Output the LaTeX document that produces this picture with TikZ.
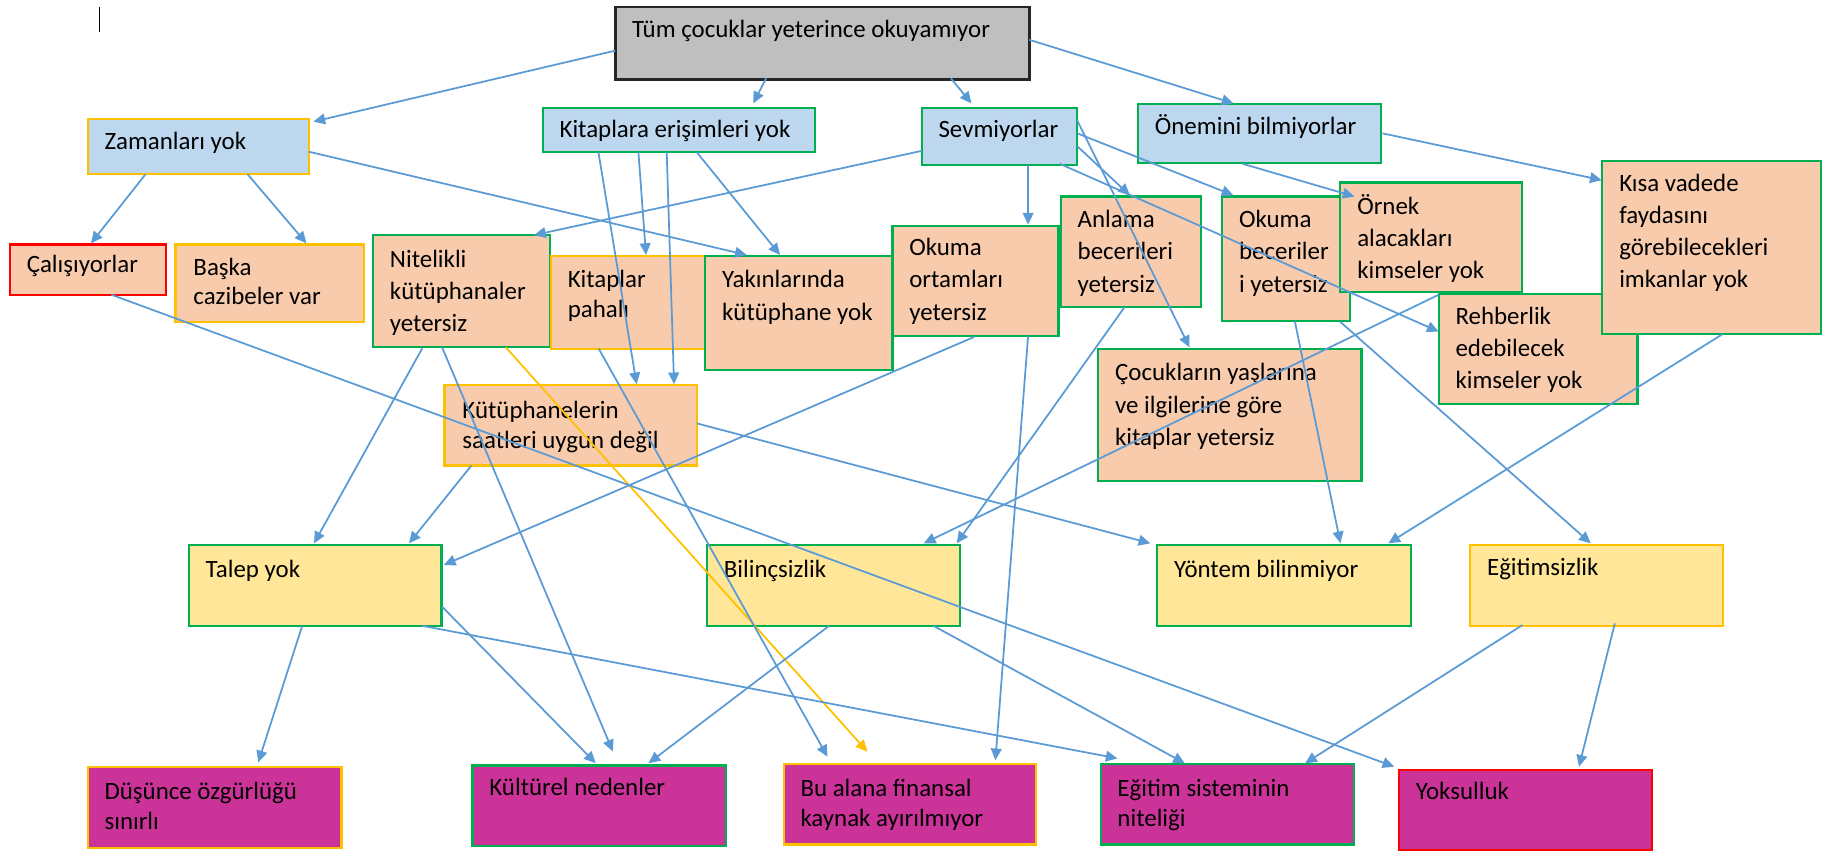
\documentclass[tikz,border=0pt]{standalone}
\usepackage{fontspec}
\setmainfont{Carlito}
\usetikzlibrary{arrows.meta,fit}
\definecolor{cblue}{HTML}{BDD7EE}
\definecolor{cpeach}{HTML}{F8CBAD}
\definecolor{cyel}{HTML}{FFE699}
\definecolor{cmag}{HTML}{CC3399}
\definecolor{cgray}{HTML}{BFBFBF}
\definecolor{bgreen}{HTML}{00B050}
\definecolor{borange}{HTML}{FFC000}
\definecolor{bred}{HTML}{FF0000}
\definecolor{barrow}{HTML}{5B9BD5}
\begin{document}
\begin{tikzpicture}[x=0.5pt,y=-0.5pt,
  cbox/.style={draw, line width=0.9pt, inner sep=0pt, outer sep=0pt, rectangle},
  txt/.style={anchor=north west, inner sep=0pt, align=left, font=\fontsize{10.65}{13.75}\selectfont, text=black},
  arr/.style={draw=barrow, line width=0.75pt, -{Triangle[length=5pt,width=4.6pt]}, fill=barrow},
  yarr/.style={draw=borange, line width=0.75pt, -{Triangle[length=5pt,width=4.6pt]}},
]
\useasboundingbox (0,0) rectangle (1568,728);
\fill[white] (0,0) rectangle (1568,728);
% cursor mark
\draw[line width=0.6pt] (85,6) -- (85,27.5);

% boxes
\node[cbox, fill=cgray, draw=black!85, line width=1.2pt, fit={(526,6) (880,68)}] (tum) {};
\node[cbox, fill=cblue, draw=borange, fit={(75,102) (264,149)}] (zam) {};
\node[cbox, fill=cblue, draw=bgreen, fit={(464,92) (697,130)}] (kit) {};
\node[cbox, fill=cblue, draw=bgreen, fit={(788,92) (921,141)}] (sev) {};
\node[cbox, fill=cblue, draw=bgreen, fit={(973,89) (1181,139)}] (one) {};
\node[cbox, fill=cpeach, draw=bred, fit={(8.5,209) (142,252)}] (cal) {};
\node[cbox, fill=cpeach, draw=borange, fit={(150,209) (311,275)}] (bas) {};
\node[cbox, fill=cpeach, draw=bgreen, fit={(319,201) (470,297)}] (nit) {};
\node[cbox, fill=cpeach, draw=borange, fit={(471,219) (603,298)}] (pah) {};
\node[cbox, fill=cpeach, draw=bgreen, fit={(603,219) (763,316)}] (yak) {};
\node[cbox, fill=cpeach, draw=bgreen, fit={(763,193) (905,287)}] (ort) {};
\node[cbox, fill=cpeach, draw=bgreen, fit={(907,168) (1027,262.5)}] (anl) {};
\node[cbox, fill=cpeach, draw=bgreen, fit={(1045,168) (1154,274.5)}] (obe) {};
\node[cbox, fill=cpeach, draw=bgreen, fit={(1146,156) (1301,250)}] (orn) {};
\node[cbox, fill=cpeach, draw=bgreen, fit={(1230,251.5) (1400,345.5)}] (reh) {};
\node[cbox, fill=cpeach, draw=bgreen, fit={(1370,138) (1557,285.5)}] (kis) {};
\node[cbox, fill=cpeach, draw=borange, fit={(380,329.5) (596,398)}] (kut) {};
\node[cbox, fill=cpeach, draw=bgreen, fit={(939,298.5) (1164,411)}] (coc) {};
\node[cbox, fill=cyel, draw=bgreen, fit={(161.5,466) (377.5,535)}] (tal) {};
\node[cbox, fill=cyel, draw=bgreen, fit={(604.5,466) (820.5,535)}] (bil) {};
\node[cbox, fill=cyel, draw=bgreen, fit={(989.5,466) (1206.5,535)}] (yon) {};
\node[cbox, fill=cyel, draw=borange, fit={(1257,466) (1473,535)}] (egz) {};
\node[cbox, fill=cmag, draw=borange, fit={(75,656) (292,725)}] (dus) {};
\node[cbox, fill=cmag, draw=bgreen, fit={(404,654.5) (620.5,723)}] (kul) {};
\node[cbox, fill=cmag, draw=borange, fit={(670,653) (885.5,722)}] (bua) {};
\node[cbox, fill=cmag, draw=bgreen, fit={(941,653) (1157.5,722)}] (egs) {};
\node[cbox, fill=cmag, draw=bred, fit={(1196,658) (1412.5,727)}] (yok) {};

% texts
\node[txt] (tumt) at ([shift={(14,6.5)}]tum.north west) {\strut Tüm çocuklar yeterince okuyamıyor};
\node[txt] (zamt) at ([shift={(14,6.5)}]zam.north west) {\strut Zamanları yok};
\node[txt] (kitt) at ([shift={(14,5.5)}]kit.north west) {\strut Kitaplara erişimleri yok};
\node[txt] (sevt) at ([shift={(14,6)}]sev.north west) {\strut Sevmiyorlar};
\node[txt] (onet) at ([shift={(14,6)}]one.north west) {\strut Önemini bilmiyorlar};
\node[txt] (calt) at ([shift={(14,4.5)}]cal.north west) {\strut Çalışıyorlar};
\node[txt] (bast) at ([shift={(15,6.5)}]bas.north west) {\strut Başka\\[-1pt]cazibeler var};
\node[txt] (nitt) at ([shift={(14,8)}]nit.north west) {\strut Nitelikli\\kütüphanaler\\yetersiz};
\node[txt] (paht) at ([shift={(14,7.5)}]pah.north west) {\strut Kitaplar\\[-1pt]pahalı};
\node[txt] (yakt) at ([shift={(14,7.5)}]yak.north west) {\strut Yakınlarında\\kütüphane yok};
\node[txt] (ortt) at ([shift={(14,6)}]ort.north west) {\strut Okuma\\ortamları\\yetersiz};
\node[txt] (anlt) at ([shift={(14,7)}]anl.north west) {\strut Anlama\\becerileri\\yetersiz};
\node[txt] (obet) at ([shift={(14,7)}]obe.north west) {\strut Okuma\\beceriler\\i yetersiz};
\node[txt] (ornt) at ([shift={(14,7.5)}]orn.north west) {\strut Örnek\\alacakları\\kimseler yok};
\node[txt] (reht) at ([shift={(14,6)}]reh.north west) {\strut Rehberlik\\edebilecek\\kimseler yok};
\node[txt] (kist) at ([shift={(14,6)}]kis.north west) {\strut Kısa vadede\\faydasını\\görebilecekleri\\imkanlar yok};
\node[txt] (kutt) at ([shift={(15,8.5)}]kut.north west) {\strut Kütüphanelerin\\[-1pt]saatleri uygun değil};
\node[txt] (coct) at ([shift={(14,7.5)}]coc.north west) {\strut Çocukların yaşlarına\\ve ilgilerine göre\\kitaplar yetersiz};
\node[txt] (talt) at ([shift={(14,8)}]tal.north west) {\strut Talep yok};
\node[txt] (bilt) at ([shift={(14,8)}]bil.north west) {\strut Bilinçsizlik};
\node[txt] (yont) at ([shift={(14,8)}]yon.north west) {\strut Yöntem bilinmiyor};
\node[txt] (egzt) at ([shift={(14,6.5)}]egz.north west) {\strut Eğitimsizlik};
\node[txt] (dust) at ([shift={(14,8)}]dus.north west) {\strut Düşünce özgürlüğü\\[-1pt]sınırlı};
\node[txt] (kult) at ([shift={(14,6)}]kul.north west) {\strut Kültürel nedenler};
\node[txt] (buat) at ([shift={(14,8.5)}]bua.north west) {\strut Bu alana finansal\\[-1pt]kaynak ayırılmıyor};
\node[txt] (egst) at ([shift={(14,8.5)}]egs.north west) {\strut Eğitim sisteminin\\[-1pt]niteliği};
\node[txt] (yokt) at ([shift={(14,6)}]yok.north west) {\strut Yoksulluk};

% connectors
\draw[arr] ([shift={(0,37.3)}]tum.north west) -- ([shift={(4,2)}]zam.north east);
\draw[arr] ([shift={(129,-1)}]tum.south west) -- ([shift={(180,-3.6)}]kit.north west);
\draw[arr] ([shift={(287,-1)}]tum.south west) -- ([shift={(42.6,-3.6)}]sev.north west);
\draw[arr] ([shift={(0,28)}]tum.north east) -- ([shift={(81.6,-0.6)}]one.north west);
\draw[arr] ([shift={(49.4,0)}]zam.south west) -- ([shift={(69.3,-1)}]cal.north west);
\draw[arr] ([shift={(136.7,0)}]zam.south west) -- ([shift={(112,-1)}]bas.north west);
\draw[arr] ([shift={(0,27.7)}]zam.north east) -- ([shift={(35.4,-1)}]yak.north west);
\draw[arr] ([shift={(47.6,0)}]kit.south west) -- ([shift={(164.3,-1)}]kut.north west);
\draw[arr] ([shift={(81.8,0)}]kit.south west) -- ([shift={(81.3,-1)}]pah.north west);
\draw[arr] ([shift={(106,0)}]kit.south west) -- ([shift={(196.3,-1)}]kut.north west);
\draw[arr] ([shift={(131.6,0)}]kit.south west) -- ([shift={(63.9,-1)}]yak.north west);
\draw[arr] ([shift={(0,-12)}]sev.south west) -- ([shift={(-13.4,0)}]nit.north east);
\draw[arr] ([shift={(91,0)}]sev.south west) -- ([shift={(116,-1)}]ort.north west);
\draw[arr] ([shift={(0,11)}]sev.north east) -- ([shift={(78,-1.5)}]coc.north west);
\draw[arr] ([shift={(0,33)}]sev.north east) -- ([shift={(59,-1)}]anl.north west);
\draw[arr] ([shift={(0,22)}]sev.north east) -- ([shift={(9.5,-1)}]obe.north west);
\draw[arr] ([shift={(-15,-1)}]sev.south east) -- ([shift={(0,32)}]reh.north west);
\draw[arr] ([shift={(1,25)}]one.north east) -- ([shift={(-0.6,16)}]kis.north west);
\draw[arr] ([shift={(89.3,1)}]one.south west) -- ([shift={(12,12)}]orn.north west);
\draw[arr] ([shift={(42,0.8)}]nit.south west) -- ([shift={(107,-1.5)}]tal.north west);
\draw[arr] ([shift={(59,0)}]nit.south west) -- ([shift={(120,-12)}]kul.north west);
\draw[yarr, fill=borange] ([shift={(113.5,0)}]nit.south west) -- ([shift={(71.6,-10.3)}]bua.north west);
\draw[arr] ([shift={(40.8,0)}]pah.south west) -- ([shift={(37.5,-6)}]bua.north west);
\draw[arr] ([shift={(23,0)}]kut.south west) -- ([shift={(188.2,-1.5)}]tal.north west);
\draw[arr] ([shift={(0,32.5)}]kut.north east) -- ([shift={(-6,-1.5)}]yon.north west);
\draw[arr] ([shift={(86.8,0)}]cal.south west) -- ([shift={(-4,-2.5)}]yok.north west);
\draw[arr] ([shift={(70,1)}]ort.south west) -- ([shift={(2,17)}]tal.north east);
\draw[arr] ([shift={(116,0)}]ort.south west) -- ([shift={(181,-3)}]bua.north west);
\draw[arr] ([shift={(54.5,0)}]anl.south west) -- ([shift={(-2.6,-1.5)}]bil.north east);
\draw[arr] ([shift={(0,0.5)}]reh.north west) -- ([shift={(-30.7,-1.5)}]bil.north east);
\draw[arr] ([shift={(62,0)}]obe.south west) -- ([shift={(156.5,-1.5)}]yon.north west);
\draw[arr] ([shift={(-8.3,0.5)}]obe.south east) -- ([shift={(103,-1.5)}]egz.north west);
\draw[arr] ([shift={(103,0)}]kis.south west) -- ([shift={(-19.5,-1.5)}]yon.north east);
\draw[arr] ([shift={(96.9,0)}]tal.south west) -- ([shift={(145.8,-4.2)}]dus.north west);
\draw[arr] ([shift={(0.5,52.7)}]tal.north east) -- ([shift={(105.3,-2)}]kul.north west);
\draw[arr] ([shift={(199.5,0)}]tal.south west) -- ([shift={(14.4,-4.6)}]egs.north west);
\draw[arr] ([shift={(104.4,0)}]bil.south west) -- ([shift={(150.5,-2)}]kul.north west);
\draw[arr] ([shift={(193.5,0)}]bil.south west) -- ([shift={(72,-0.4)}]egs.north west);
\draw[arr] ([shift={(44.6,-0.6)}]egz.south west) -- ([shift={(174.8,-0.4)}]egs.north west);
\draw[arr] ([shift={(123.6,-2)}]egz.south west) -- ([shift={(154,-2.5)}]yok.north west);
\end{tikzpicture}
\end{document}
